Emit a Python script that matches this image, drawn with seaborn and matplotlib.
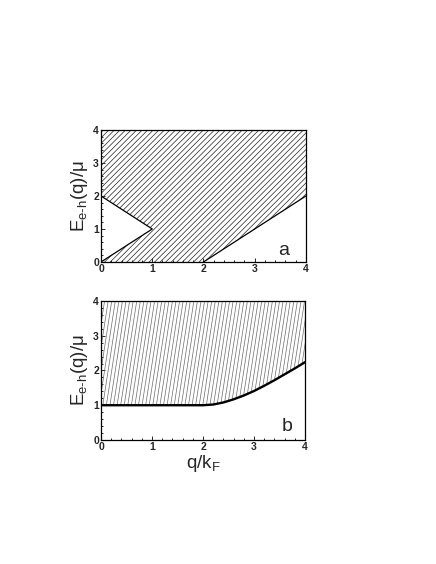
import matplotlib

matplotlib.use("Agg")

import matplotlib.pyplot as plt
import numpy as np
import pandas as pd
import seaborn as sns
from matplotlib.patches import Polygon
from matplotlib.ticker import MultipleLocator

# ── Data ──────────────────────────────────────────────────────────────────────
# panel a: boundaries of the e-h continuum
wedge_q = [0.0, 1.0, 0.0]
wedge_E = [2.0, 1.0, 0.0]
edge_q = [2.0, 4.0]
edge_E = [0.0, 2.0]

# panel b: lower edge of the continuum
gap_q = [0.0, 1.0, 2.0, 2.2, 2.4, 2.6, 2.8, 3.0, 3.2, 3.4, 3.6, 3.8, 4.0]
gap_E = [1.0, 1.0, 1.0, 1.02, 1.08, 1.17, 1.28, 1.41, 1.56, 1.72, 1.89, 2.06, 2.24]

Q_MAX = 4.0
E_MAX = 4.0
ticks = [0, 1, 2, 3, 4]

# ── Style ─────────────────────────────────────────────────────────────────────
sns.set_style("ticks")
plt.rcParams["font.family"] = ["Liberation Sans", "DejaVu Sans"]
plt.rcParams["mathtext.fontset"] = "custom"
plt.rcParams["mathtext.rm"] = "Liberation Sans"
plt.rcParams["mathtext.it"] = "Liberation Sans"
plt.rcParams["hatch.linewidth"] = 0.55
plt.rcParams["hatch.color"] = "#333333"

YLABEL = r"E$_{\text{e-h}}$(q)/μ"
XLABEL = r"q/k$_{\text{F}}$"

fig = plt.figure(figsize=(4.36, 5.64), dpi=100)
ax_a = fig.add_axes([0.2317, 0.5355, 0.470, 0.2340])
ax_b = fig.add_axes([0.2317, 0.2199, 0.468, 0.2465])


def style_axes(ax):
    ax.set_xlim(0, Q_MAX)
    ax.set_ylim(0, E_MAX)
    ax.set_xticks(ticks)
    ax.set_yticks(ticks)
    ax.xaxis.set_minor_locator(MultipleLocator(0.2))
    ax.yaxis.set_minor_locator(MultipleLocator(0.2))
    ax.tick_params(which="both", direction="in", top=False, right=False,
                   labelsize=7.5, pad=1.5, width=0.7)
    ax.tick_params(which="major", length=3)
    ax.tick_params(which="minor", length=1.6)
    for lbl in ax.get_xticklabels() + ax.get_yticklabels():
        lbl.set_fontweight("bold")
    for sp in ax.spines.values():
        sp.set_linewidth(0.9)
        sp.set_color("black")
    ax.set_ylabel(YLABEL, fontsize=13.5, labelpad=2)


# ── Panel a ───────────────────────────────────────────────────────────────────
region_a = ([(0.0, E_MAX)] + list(zip(wedge_q, wedge_E))
            + list(zip(edge_q, edge_E)) + [(Q_MAX, E_MAX)])
ax_a.add_patch(Polygon(region_a, closed=True, facecolor="none",
                       edgecolor="#333333", hatch="//////", linewidth=0))
wedge_df = pd.DataFrame({"q": wedge_q, "E": wedge_E})
edge_df = pd.DataFrame({"q": edge_q, "E": edge_E})
sns.lineplot(data=wedge_df, x="q", y="E", sort=False, estimator=None,
             color="black", linewidth=0.9, ax=ax_a)
sns.lineplot(data=edge_df, x="q", y="E", sort=False, estimator=None,
             color="black", linewidth=0.9, ax=ax_a)
style_axes(ax_a)
ax_a.set_xlabel("")
ax_a.text(0.89, 0.09, "a", transform=ax_a.transAxes, fontsize=14,
          ha="center", va="center")

# ── Panel b ───────────────────────────────────────────────────────────────────
region_b = Polygon([(0.0, E_MAX)] + list(zip(gap_q, gap_E)) + [(Q_MAX, E_MAX)],
                   closed=True, facecolor="none", linewidth=0,
                   transform=ax_b.transData)
ax_b.add_patch(region_b)
# steep hatch lines, clipped to the continuum region
slant = 0.42
for x0 in np.arange(-slant, Q_MAX + 0.1, 0.07):
    ln, = ax_b.plot([x0, x0 + slant], [0, E_MAX], color="#6a6a6a",
                    linewidth=0.5)
    ln.set_clip_path(region_b)
gap_df = pd.DataFrame({"q": gap_q, "E": gap_E})
sns.lineplot(data=gap_df, x="q", y="E", color="black", linewidth=1.7,
             ax=ax_b)
style_axes(ax_b)
ax_b.set_xlabel(XLABEL, fontsize=13.5, labelpad=1)
ax_b.text(0.91, 0.1, "b", transform=ax_b.transAxes, fontsize=14,
          ha="center", va="center")

fig.savefig("out.png", dpi=100)
plt.close(fig)
